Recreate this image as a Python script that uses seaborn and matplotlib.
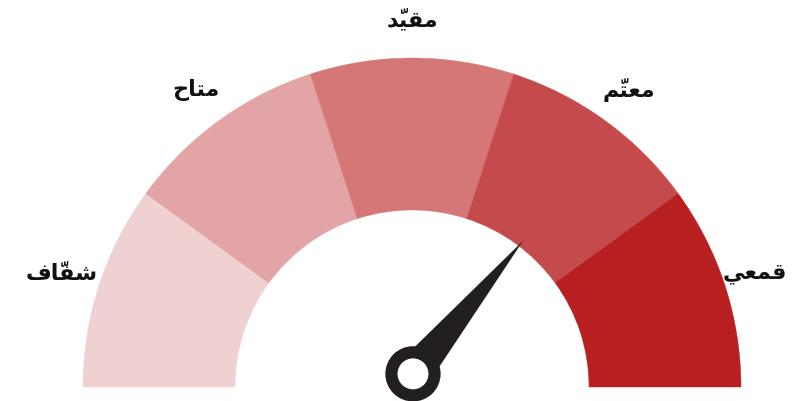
import numpy as np
import matplotlib
matplotlib.use("Agg")
import matplotlib.pyplot as plt
from matplotlib.patches import Wedge, Polygon, Circle
import seaborn as sns

# ---- data ----
labels = ["شفّاف", "متاح", "مقيّد", "معتّم", "قمعي"]
seg_colors = ["#efd1d2", "#e3a4a5", "#d57677", "#c54a4b", "#b71f21"]
value = 72          # needle value on a 0-100 scale
scale_max = 100

sns.set_theme(style="white")
plt.rcParams['font.family'] = ['DejaVu Sans']

# ---- minimal Arabic shaping (presentation forms, visual order) ----
FORMS = {  # iso, fin, ini, med
    'ا': ('\uFE8D', '\uFE8E', None, None),
    'ت': ('\uFE95', '\uFE96', '\uFE97', '\uFE98'),
    'ح': ('\uFEA1', '\uFEA2', '\uFEA3', '\uFEA4'),
    'د': ('\uFEA9', '\uFEAA', None, None),
    'ش': ('\uFEB5', '\uFEB6', '\uFEB7', '\uFEB8'),
    'ع': ('\uFEC9', '\uFECA', '\uFECB', '\uFECC'),
    'ف': ('\uFED1', '\uFED2', '\uFED3', '\uFED4'),
    'ق': ('\uFED5', '\uFED6', '\uFED7', '\uFED8'),
    'م': ('\uFEE1', '\uFEE2', '\uFEE3', '\uFEE4'),
    'ي': ('\uFEF1', '\uFEF2', '\uFEF3', '\uFEF4'),
}
MARKS = {'\u0651'}

def shape(text):
    clusters = []
    for ch in text:
        if ch in MARKS and clusters:
            clusters[-1][1].append(ch)
        else:
            clusters.append([ch, []])
    out = []
    n = len(clusters)
    for i, (ch, marks) in enumerate(clusters):
        f = FORMS.get(ch)
        if f is None:
            out.append(''.join(marks) + ch)
            continue
        prev = clusters[i - 1][0] if i > 0 else None
        nxt = clusters[i + 1][0] if i < n - 1 else None
        join_prev = prev is not None and prev in FORMS and FORMS[prev][2] is not None
        join_next = nxt is not None and nxt in FORMS and f[2] is not None
        if join_prev and join_next:
            g = f[3]
        elif join_prev:
            g = f[1]
        elif join_next:
            g = f[2]
        else:
            g = f[0]
        # visual order: the mark is drawn just before its base glyph
        out.append(''.join(marks) + g)
    return ''.join(reversed(out))

# ---- figure ----
W, H = 793, 402
fig = plt.figure(figsize=(W / 100, H / 100), dpi=100)
ax = fig.add_axes([0, 0, 1, 1])
S = 329.0
cx, cy = 412.0, 388.0
ax.set_xlim(-cx / S, (W - cx) / S)
ax.set_ylim(-(H - cy) / S, cy / S)
ax.axis("off")

R_out, R_in = 1.0, 177.0 / 329.0
n = len(labels)
step = 180.0 / n
texts = []
for i, (lab, col) in enumerate(zip(labels, seg_colors)):
    t1 = 180.0 - i * step
    t0 = t1 - step
    ax.add_patch(Wedge((0, 0), R_out, t0, t1, width=R_out - R_in,
                       facecolor=col, edgecolor=col, linewidth=0.3))
    mid = np.deg2rad((t0 + t1) / 2)
    rl = 1.12
    texts.append(ax.text(rl * np.cos(mid), rl * np.sin(mid), shape(lab),
                         ha="center", va="center", fontsize=16,
                         fontweight="bold", color="#111111"))

# keep labels inside the canvas
fig.canvas.draw()
renderer = fig.canvas.get_renderer()
for t in texts:
    bb = t.get_window_extent(renderer)
    shift = 0.0
    if bb.x1 > W - 6:
        shift = -(bb.x1 - (W - 6))
    elif bb.x0 < 6:
        shift = 6 - bb.x0
    if shift:
        x, y = t.get_position()
        t.set_position((x + shift / S, y))

# ---- needle ----
hub = np.array([0.003, 0.04])
ang = np.deg2rad(180.0 * (1 - value / scale_max))
L = 0.525
d = np.array([np.cos(ang), np.sin(ang)])
p = np.array([-d[1], d[0]])
hw = 0.055
tip = hub + L * d
needle = Polygon([hub + hw * p, tip, hub - hw * p], closed=True,
                 facecolor="#231f20", edgecolor="none")
ax.add_patch(needle)
ax.add_patch(Circle(hub, 0.084, facecolor="#231f20", edgecolor="none"))
ax.add_patch(Circle(hub, 0.047, facecolor="white", edgecolor="none"))

fig.savefig("out.png", dpi=100, facecolor="white")
